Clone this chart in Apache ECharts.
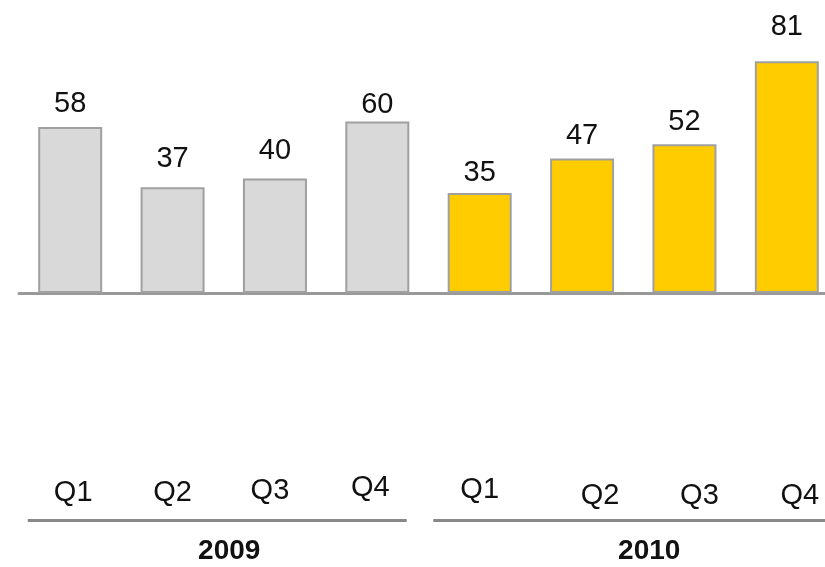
<!DOCTYPE html>
<html lang="en">
<head>
    <meta charset="UTF-8">
    <title>Quarterly results 2009-2010</title>
    <script src="https://cdn.jsdelivr.net/npm/echarts@6/dist/echarts.min.js"></script>
    <style>
        body { margin: 0; padding: 0; background: #fff; }
        #chart { width: 825px; height: 567px; }
    </style>
</head>
<body>
    <div id="chart"></div>

    <script>
        // data
        const quarters = ['Q1', 'Q2', 'Q3', 'Q4'];
        const years = ['2009', '2010'];
        const values2009 = [58, 37, 40, 60];
        const values2010 = [35, 47, 52, 81];

        const yearColors = ['#d9d9d9', '#ffcc00'];
        // the original slide has hand-placed text boxes, so a few small nudges
        const labelNudge = [[3, 0], [0, 0], [-5, -2], [-7, -5], [0, -3], [18, 3], [15, 3], [13, 3]];
        const valueLift = [1, 6, 5, -6, -3, 0, 0, 12];

        const categories = [];
        const barData = [];
        [values2009, values2010].forEach((vals, yi) => {
            vals.forEach((v, qi) => {
                const idx = yi * 4 + qi;
                const n = labelNudge[idx];
                categories.push({
                    value: quarters[qi] + ' ' + years[yi],
                    textStyle: {
                        padding: [n[1] + 5, Math.max(-n[0], 0) * 2, 0, Math.max(n[0], 0) * 2]
                    }
                });
                barData.push({
                    value: v,
                    itemStyle: { color: yearColors[yi] },
                    label: { distance: 8 + valueLift[idx] }
                });
            });
        });

        const chart = echarts.init(document.getElementById('chart'));
        chart.setOption({
            animation: false,
            grid: { left: 19, width: 819, top: 7, bottom: 274, outerBoundsMode: 'none', containLabel: false },
            xAxis: [{
                type: 'category',
                data: categories,
                axisLine: { lineStyle: { color: '#999999', width: 3 } },
                axisTick: { show: false },
                axisLabel: {
                    interval: 0,
                    margin: 180,
                    fontFamily: 'Liberation Sans',
                    fontSize: 29,
                    color: '#111',
                    formatter: v => v.split(' ')[0]
                }
            }, {
                type: 'category',
                data: [
                    { value: years[0], textStyle: { padding: [0, 13, 0, 0] } },
                    { value: years[1], textStyle: { padding: [0, 0, 0, 10] } }
                ],
                position: 'bottom',
                axisLine: { show: false },
                axisTick: { show: false },
                axisLabel: {
                    interval: 0,
                    margin: 226,
                    formatter: (v, i) => '{ln' + i + '|}\n{yr' + i + '|' + v + '}',
                    rich: {
                        ln0: { width: 379, height: 3, backgroundColor: '#888888' },
                        ln1: { width: 410, height: 3, backgroundColor: '#888888' },
                        yr0: {
                            fontFamily: 'Liberation Sans', fontSize: 28, fontWeight: 'bold', color: '#111',
                            padding: [15, 0, 0, 24]
                        },
                        yr1: {
                            fontFamily: 'Liberation Sans', fontSize: 28, fontWeight: 'bold', color: '#111',
                            padding: [15, 0, 0, 22]
                        }
                    }
                }
            }],
            yAxis: {
                type: 'value',
                min: 0,
                max: 100,
                show: false
            },
            series: [{
                type: 'bar',
                data: barData,
                barWidth: 64,
                itemStyle: { borderColor: '#a0a0a0', borderWidth: 2 },
                label: {
                    show: true,
                    position: 'top',
                    fontFamily: 'Liberation Sans',
                    fontSize: 29,
                    color: '#111'
                }
            }]
        });
    </script>
</body>
</html>
